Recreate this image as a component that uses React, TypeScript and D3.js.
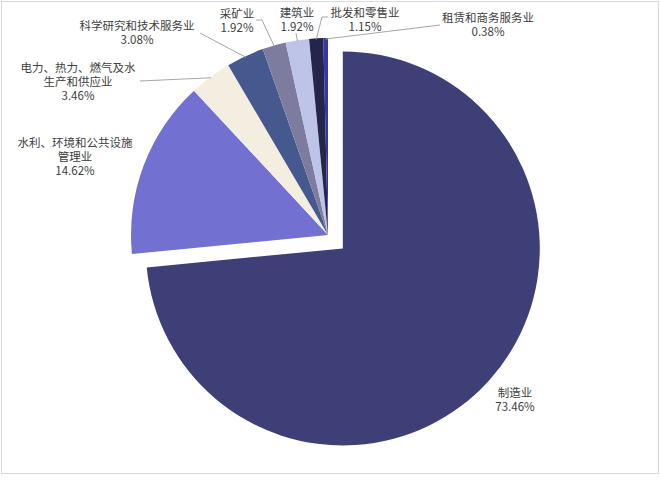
import React from 'react';
import { pie, arc, PieArcDatum } from 'd3';

// industry shares (%), clockwise from 12 o'clock
const industries = [
  '制造业',
  '水利、环境和公共设施管理业',
  '电力、热力、燃气及水生产和供应业',
  '科学研究和技术服务业',
  '采矿业',
  '建筑业',
  '批发和零售业',
  '租赁和商务服务业',
];
const shares = [73.46, 14.62, 3.46, 3.08, 1.92, 1.92, 1.15, 0.38];
const labelLines = [
  ['制造业'],
  ['水利、环境和公共设施', '管理业'],
  ['电力、热力、燃气及水', '生产和供应业'],
  ['科学研究和技术服务业'],
  ['采矿业'],
  ['建筑业'],
  ['批发和零售业'],
  ['租赁和商务服务业'],
];
const colors = ['#3f3f78', '#7271d2', '#f4eee1', '#46598f', '#7d7c9f', '#bec3e8', '#25254c', '#3535aa'];

// label layout: text centre + leader start (null = no leader)
const labelPos: { x: number; y: number; lead: [number, number][] | null }[] = [
  { x: 515, y: 393, lead: null },
  { x: 75, y: 143, lead: null },
  { x: 78, y: 68, lead: [[140, 81]] },
  { x: 137, y: 26, lead: [[200, 33]] },
  { x: 237, y: 14, lead: [[256, 20], [262, 20]] },
  { x: 297, y: 13, lead: [[296, 33]] },
  { x: 365, y: 13, lead: [[328, 17], [322, 17]] },
  { x: 488, y: 18, lead: [[440, 25]] },
];

const W = 660;
const H = 482;
const cx = 328;
const cy = 235;
const R = 197;
const explode = 20;
const lineH = 14;

type D = { name: string; value: number; i: number };

const App: React.FC = () => {
  const data: D[] = industries.map((name, i) => ({ name, value: shares[i], i }));
  const arcs = pie<D>().sort(null).value(d => d.value).startAngle(0).endAngle(Math.PI * 2)(data);
  const arcGen = arc<PieArcDatum<D>>().innerRadius(0).outerRadius(R);

  const offset = (a: PieArcDatum<D>) => {
    if (a.index !== 0) return [0, 0];
    const m = (a.startAngle + a.endAngle) / 2;
    return [Math.sin(m) * explode, -Math.cos(m) * explode];
  };

  return (
    <svg width={W} height={H} style={{ position: 'absolute', left: 0, top: 0, background: '#fff' }}>
      <rect x={1.5} y={1.5} width={657} height={472} fill="#fff" stroke="#d9d9d9" />
      <g transform={`translate(${cx},${cy})`}>
        {arcs.map(a => {
          const [dx, dy] = offset(a);
          return (
            <path key={a.index} d={arcGen(a) || ''} fill={colors[a.index]} transform={`translate(${dx},${dy})`} />
          );
        })}
      </g>
      {arcs.map(a => {
        const p = labelPos[a.index];
        if (!p.lead) return null;
        const m = (a.startAngle + a.endAngle) / 2;
        const end: [number, number] = [cx + Math.sin(m) * (R - 1), cy - Math.cos(m) * (R - 1)];
        const pts = [...p.lead, end];
        return (
          <polyline
            key={'l' + a.index}
            points={pts.map(q => q.join(',')).join(' ')}
            fill="none"
            stroke="#a6a6a6"
            strokeWidth={1}
          />
        );
      })}
      {arcs.map(a => {
        const p = labelPos[a.index];
        const lines = [...labelLines[a.index], `${shares[a.index].toFixed(2)}%`];
        return (
          <g key={'t' + a.index}>
            {lines.map((s, k) => (
              <text
                key={k}
                x={p.x}
                y={p.y + k * lineH + 4}
                textAnchor="middle"
                fontFamily="'Noto Sans CJK SC', 'Noto Sans', sans-serif"
                fontSize={11.5}
                fill="#404040"
              >
                {s}
              </text>
            ))}
          </g>
        );
      })}
    </svg>
  );
};

export default App;
